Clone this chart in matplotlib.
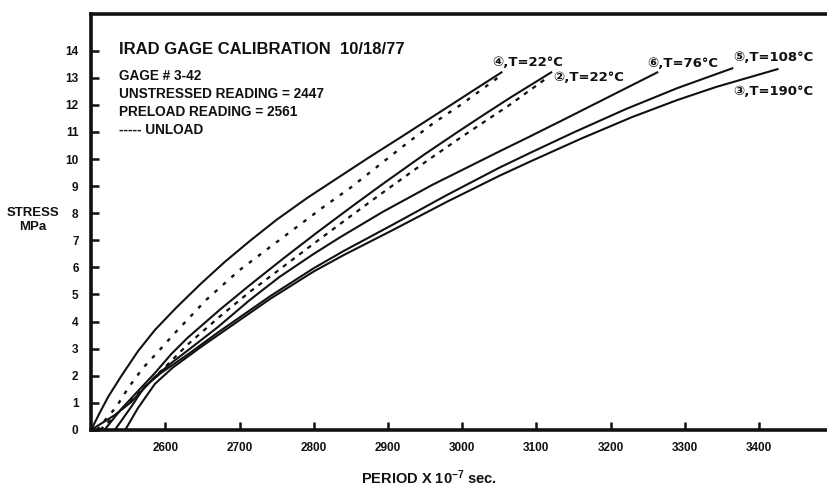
"""IRAD gage calibration 10/18/77: stress vs. period for gage #3-42 at several temperatures."""

import matplotlib
matplotlib.use("Agg")
import matplotlib.pyplot as plt

plt.rcParams["font.family"] = ["Liberation Sans", "DejaVu Sans"]
plt.rcParams["font.weight"] = "bold"
plt.rcParams["mathtext.default"] = "regular"

# period (x 10^-7 s) and stress (MPa)
curve4_x = [2500, 2512, 2523, 2540, 2563, 2586, 2615, 2648, 2680, 2715, 2750, 2792, 2836, 2875, 2917, 2955, 2989, 3020, 3053]
curve4_y = [0.0, 0.65, 1.22, 1.96, 2.9, 3.69, 4.52, 5.4, 6.2, 7.0, 7.76, 8.58, 9.37, 10.07, 10.8, 11.47, 12.07, 12.62, 13.2]
unload4_x = [2508, 2520, 2534, 2550, 2570, 2590, 2613, 2655, 2700, 2745, 2780, 2814, 2850, 2917, 2960, 2998, 3048]
unload4_y = [0.0, 0.4, 0.85, 1.55, 2.29, 2.88, 3.58, 4.8, 5.9, 6.83, 7.55, 8.25, 8.95, 10.4, 11.3, 12.0, 13.0]

curve2_x = [2518, 2540, 2562, 2586, 2608, 2630, 2674, 2714, 2760, 2805, 2854, 2894, 2948, 2994, 3030, 3065, 3120]
curve2_y = [0.0, 0.75, 1.4, 2.1, 2.8, 3.4, 4.45, 5.35, 6.35, 7.3, 8.3, 9.1, 10.15, 11.0, 11.65, 12.27, 13.2]
unload2_x = [2512, 2535, 2560, 2586, 2630, 2674, 2714, 2760, 2805, 2854, 2900, 2956, 3000, 3064, 3112]
unload2_y = [0.0, 0.6, 1.25, 1.95, 3.15, 4.2, 5.1, 6.05, 6.98, 7.98, 8.9, 10.0, 10.83, 12.0, 12.95]

curve6_x = [2500, 2532, 2554, 2572, 2586, 2608, 2631, 2671, 2714, 2754, 2800, 2836, 2893, 2960, 3050, 3091, 3140, 3200, 3263]
curve6_y = [0.0, 0.55, 1.03, 1.55, 1.96, 2.47, 2.95, 3.8, 4.8, 5.65, 6.5, 7.12, 8.05, 9.05, 10.28, 10.83, 11.5, 12.33, 13.2]

curve5_x = [2532, 2554, 2572, 2594, 2631, 2671, 2742, 2800, 2840, 2908, 2980, 3050, 3091, 3150, 3221, 3290, 3364]
curve5_y = [0.0, 0.85, 1.59, 2.1, 2.8, 3.6, 4.95, 5.97, 6.6, 7.6, 8.68, 9.68, 10.22, 10.98, 11.85, 12.62, 13.35]
curve3_x = [2546, 2563, 2586, 2610, 2650, 2691, 2742, 2800, 2840, 2908, 2980, 3050, 3091, 3160, 3229, 3290, 3342, 3425]
curve3_y = [0.0, 0.8, 1.7, 2.3, 3.1, 3.88, 4.85, 5.85, 6.45, 7.4, 8.43, 9.38, 9.9, 10.75, 11.55, 12.18, 12.66, 13.32]

# curve tags: (text, x, y)
tags = [
    ("\u2463,T=22°C", 3041, 13.58),
    ("\u2461,T=22°C", 3123, 13.0),
    ("\u2465,T=76°C", 3250, 13.54),
    ("\u2464,T=108°C", 3365, 13.76),
    ("\u2462,T=190°C", 3365, 12.5),
]

notes = [
    "GAGE # 3-42",
    "UNSTRESSED READING = 2447",
    "PRELOAD READING = 2561",
    "----- UNLOAD",
]

x_ticks = [2600, 2700, 2800, 2900, 3000, 3100, 3200, 3300, 3400]
y_ticks = list(range(0, 15))

fig = plt.figure(figsize=(8.28, 4.88), dpi=100)
ax = fig.add_axes([0.110, 0.119, 0.890, 0.852])

ink = "#111111"
ax.plot(curve4_x, curve4_y, color=ink, lw=1.5)
ax.plot(unload4_x, unload4_y, color=ink, lw=1.7, ls=(0, (1.6, 3.2)))
ax.plot(curve2_x, curve2_y, color=ink, lw=1.5)
ax.plot(unload2_x, unload2_y, color=ink, lw=1.6, ls=(0, (2.0, 2.6)))
ax.plot(curve6_x, curve6_y, color=ink, lw=1.5)
ax.plot(curve5_x, curve5_y, color=ink, lw=1.5)
ax.plot(curve3_x, curve3_y, color=ink, lw=1.5)

for text, x, y in tags:
    ax.text(x, y, text, fontsize=9.5, va="center", ha="left", color=ink,
            family=["DejaVu Sans"], fontweight="bold")

fig.text(119 / 828, 1 - 50 / 488, "IRAD GAGE CALIBRATION  10/18/77",
         fontsize=12, va="center", ha="left", color=ink)
for i, line in enumerate(notes):
    fig.text(119 / 828, 1 - (76 + 18 * i) / 488, line, fontsize=9.8, va="center", ha="left", color=ink)

ax.set_xlim(2500, 3493)
ax.set_ylim(0, 15.35)
ax.set_xticks(x_ticks)
ax.set_yticks(y_ticks)
ax.tick_params(direction="in", length=6, width=1.8, colors=ink, labelsize=8.5)
ax.tick_params(axis="x", pad=9)
ax.tick_params(axis="y", pad=9)
ax.spines["right"].set_visible(False)
for side in ("left", "bottom", "top"):
    ax.spines[side].set_linewidth(2.6)
    ax.spines[side].set_color(ink)

fig.text(33 / 828, 1 - 220 / 488, "STRESS\nMPa", fontsize=9.5, ha="center", va="center",
         multialignment="center", color=ink)
fig.text(429 / 828, 1 - 478 / 488, "PERIOD X 10$^{-7}$ sec.", fontsize=10.5, ha="center",
         va="center", color=ink)

fig.savefig("out.png", dpi=100)
